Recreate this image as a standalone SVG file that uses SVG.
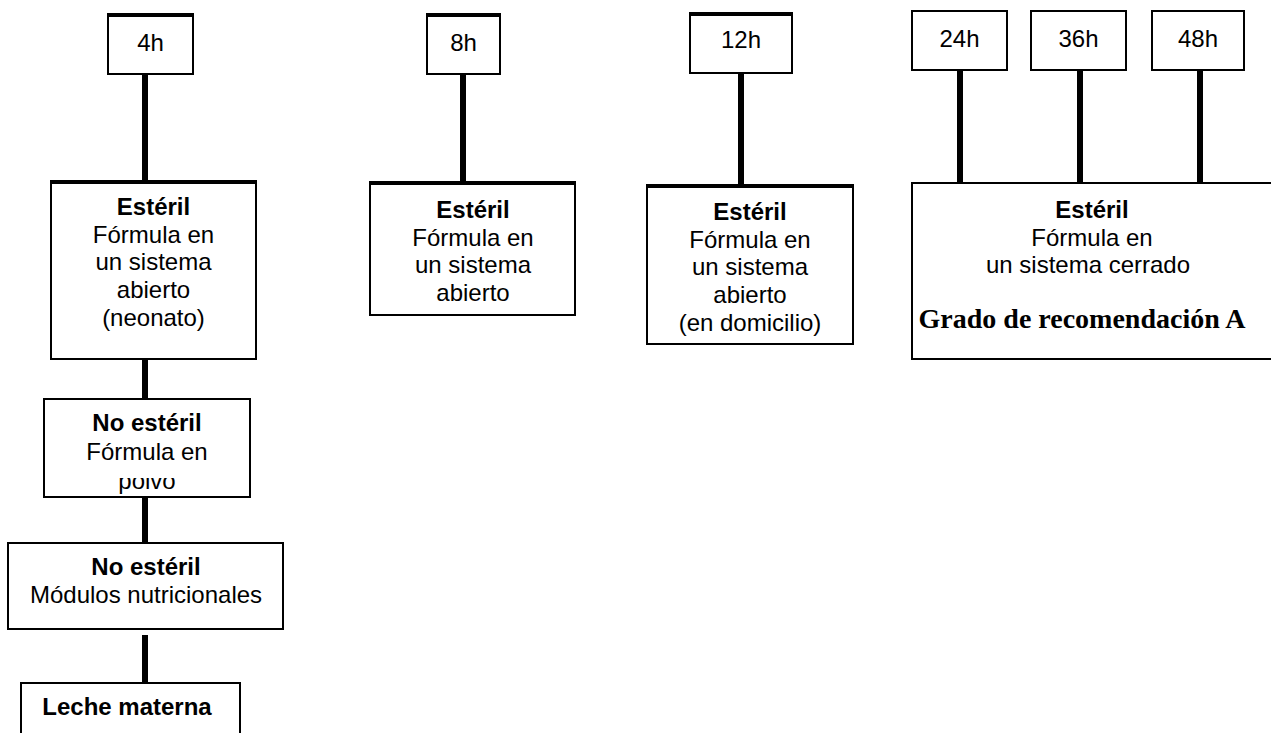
<svg xmlns="http://www.w3.org/2000/svg" width="1271" height="733" viewBox="0 0 1271 733">
<style>
.box{fill:#fff;stroke:#000;stroke-width:2}
.top{stroke:#000;stroke-width:4}
.t{font-family:"Liberation Sans",Arial,sans-serif;font-size:24px;fill:#000;text-anchor:middle}
.b{font-weight:bold}
.g{font-family:"Liberation Serif","Times New Roman",serif;font-size:28px;font-weight:bold;fill:#000;text-anchor:middle}
.c{stroke:#000;stroke-width:6}
</style>
<defs>
<clipPath id="clipPolvo"><rect x="44" y="478" width="206" height="19"/></clipPath>
</defs>
<g id="connectors">
<line class="c" x1="145" y1="74" x2="145" y2="182"/>
<line class="c" x1="145" y1="359" x2="145" y2="399"/>
<line class="c" x1="145" y1="497" x2="145" y2="543"/>
<line class="c" x1="145" y1="635" x2="145" y2="683"/>
<line class="c" x1="463" y1="74" x2="463" y2="183"/>
<line class="c" x1="741" y1="73" x2="741" y2="186"/>
<line class="c" x1="960" y1="71" x2="960" y2="183"/>
<line class="c" x1="1080" y1="71" x2="1080" y2="183"/>
<line class="c" x1="1200" y1="71" x2="1200" y2="183"/>
</g>
<g id="n4h">
<rect class="box" x="108" y="15" width="85" height="59"/>
<line class="top" x1="107" y1="15" x2="194" y2="15"/>
<text class="t" x="150.5" y="51">4h</text>
</g>
<g id="n8h">
<rect class="box" x="427" y="15" width="73" height="59"/>
<line class="top" x1="426" y1="15" x2="501" y2="15"/>
<text class="t" x="463.5" y="51">8h</text>
</g>
<g id="n12h">
<rect class="box" x="690" y="14" width="102" height="59"/>
<line class="top" x1="689" y1="14" x2="793" y2="14"/>
<text class="t" x="741" y="48">12h</text>
</g>
<g id="n24h">
<rect class="box" x="912" y="11" width="95" height="59"/>
<text class="t" x="959.5" y="47">24h</text>
</g>
<g id="n36h">
<rect class="box" x="1031" y="11" width="95" height="59"/>
<text class="t" x="1078.5" y="47">36h</text>
</g>
<g id="n48h">
<rect class="box" x="1152" y="11" width="92" height="59"/>
<text class="t" x="1198" y="47">48h</text>
</g>
<g id="a1">
<rect class="box" x="51" y="182" width="205" height="177"/>
<line class="top" x1="50" y1="182" x2="257" y2="182"/>
<text class="t b" x="153.5" y="215">Estéril</text>
<text class="t" x="153.5" y="243">Fórmula en</text>
<text class="t" x="153.5" y="270">un sistema</text>
<text class="t" x="153.5" y="298">abierto</text>
<text class="t" x="153.5" y="326">(neonato)</text>
</g>
<g id="a2">
<rect class="box" x="44" y="399" width="206" height="98"/>
<text class="t b" x="147" y="431">No estéril</text>
<text class="t" x="147" y="460">Fórmula en</text>
<text class="t" x="147" y="489" clip-path="url(#clipPolvo)">polvo</text>
</g>
<g id="a3">
<rect class="box" x="8" y="543" width="275" height="86"/>
<text class="t b" x="146" y="575">No estéril</text>
<text class="t" x="146" y="603">Módulos nutricionales</text>
</g>
<g id="a4">
<rect class="box" x="21" y="683" width="219" height="60"/>
<text class="t b" x="127" y="715">Leche materna</text>
</g>
<g id="b1">
<rect class="box" x="370" y="183" width="205" height="132"/>
<line class="top" x1="369" y1="183" x2="576" y2="183"/>
<text class="t b" x="473" y="218">Estéril</text>
<text class="t" x="473" y="246">Fórmula en</text>
<text class="t" x="473" y="273">un sistema</text>
<text class="t" x="473" y="301">abierto</text>
</g>
<g id="c1">
<rect class="box" x="647" y="186" width="206" height="158"/>
<line class="top" x1="646" y1="186" x2="854" y2="186"/>
<text class="t b" x="750" y="220">Estéril</text>
<text class="t" x="750" y="248">Fórmula en</text>
<text class="t" x="750" y="275">un sistema</text>
<text class="t" x="750" y="303">abierto</text>
<text class="t" x="750" y="331">(en domicilio)</text>
</g>
<g id="d1">
<rect class="box" x="912" y="183" width="370" height="176"/>
<text class="t b" x="1092" y="218">Estéril</text>
<text class="t" x="1092" y="246">Fórmula en</text>
<text class="t" x="1088" y="273">un sistema cerrado</text>
<text class="g" x="1082" y="328">Grado de recomendación A</text>
</g>
</svg>
